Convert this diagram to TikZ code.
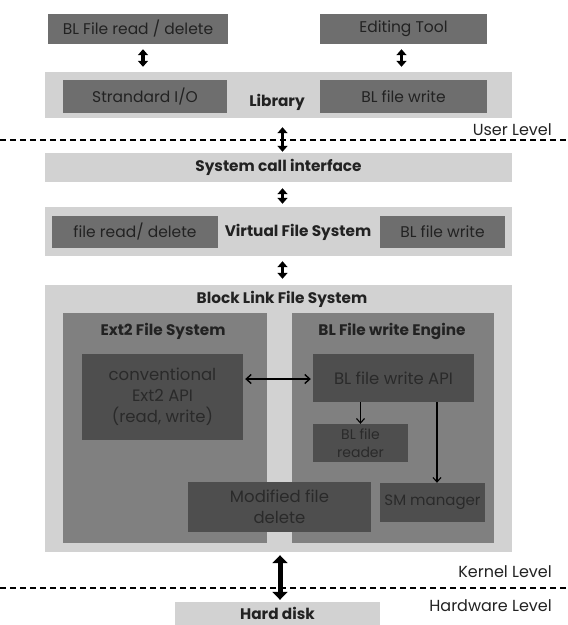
\documentclass[tikz,border=0pt]{standalone}
\usepackage{fontspec}
\setmainfont{Poppins}
\usetikzlibrary{arrows.meta}
\definecolor{bandc}{HTML}{D2D2D2}
\definecolor{darkc}{HTML}{6E6E6E}
\definecolor{midc}{HTML}{808080}
\definecolor{innerc}{HTML}{4E4E4E}
\definecolor{txtc}{HTML}{222222}
\definecolor{intxt}{HTML}{2A2A2A}
\tikzset{
  band/.style={fill=bandc, draw=none, inner sep=0pt},
  dbox/.style={fill=darkc, draw=none, inner sep=0pt, text=txtc, font=\fontsize{15.5}{18}\selectfont},
  mbox/.style={fill=midc, draw=none, inner sep=0pt},
  ibox/.style={fill=innerc, draw=none, inner sep=0pt, text=intxt, align=center, font=\fontsize{16.5}{21}\selectfont},
  ttl/.style={text=txtc, font=\bfseries\fontsize{15.3}{18}\selectfont, inner sep=0pt},
  lvl/.style={text=txtc, font=\fontsize{16}{18}\selectfont, inner sep=0pt, anchor=east},
  dbl/.style={line width=3.4pt, {Triangle[width=10pt,length=6pt]}-{Triangle[width=10pt,length=6pt]}},
  thin/.style={line width=1.1pt, -{Straight Barb[length=4.5pt,width=8pt]}},
  thinb/.style={line width=1.4pt, {Straight Barb[length=5pt,width=9pt]}-{Straight Barb[length=5pt,width=9pt]}},
  lvline/.style={line width=1.8pt, dash pattern=on 6pt off 4pt}
}
\begin{document}
\begin{tikzpicture}[x=1pt,y=-1pt]
\useasboundingbox[fill=white] (0,0) rectangle (568,625);
% user level
\node[dbox, minimum width=180, minimum height=30] (fr) at (138,29) {BL File read / delete};
\node[dbox, minimum width=167, minimum height=30] (et) at (403.5,29) {Editing Tool};
\node[band, minimum width=467, minimum height=46] (lib) at (278.5,95) {};
\node[ttl] (libl) at (277,102) {Library};
\node[dbox, minimum width=164, minimum height=33] (sio) at (145,96.5) {Strandard I/O};
\node[dbox, minimum width=167, minimum height=33] (blw) at (403.5,96.5) {BL file write};
% kernel
\node[band, minimum width=467, minimum height=29, font=\bfseries\fontsize{15.3}{18}\selectfont, text=txtc] (sci) at (278.5,167.5) {System call interface};
\node[band, minimum width=467, minimum height=49] (vfs) at (278.5,231.5) {};
\node[ttl] (vfsl) at (298,232) {Virtual File System};
\node[dbox, minimum width=166, minimum height=32] (frd) at (135,232) {file read/ delete};
\node[dbox, minimum width=125, minimum height=32] (vblw) at (442.5,232) {BL file write};
\node[band, minimum width=467, minimum height=267] (blfs) at (278.5,418.5) {};
\node[ttl] (blfsl) at (282,299) {Block Link File System};
\node[mbox, minimum width=204, minimum height=230] (ext2) at (165,428) {};
\node[ttl] (ext2l) at (163,331) {Ext2 File System};
\node[mbox, minimum width=202, minimum height=230] (eng) at (393,428) {};
\node[ttl] (engl) at (392,331) {BL File write Engine};
\node[ibox, minimum width=161, minimum height=86] (conv) at (162.5,397) {conventional\\Ext2 API\\(read, write)};
\node[ibox, minimum width=161, minimum height=48] (api) at (393.5,378) {BL file write API};
\node[ibox, minimum width=95, minimum height=38, font=\fontsize{14}{18}\selectfont] (rdr) at (360.5,443) {BL file\\reader};
\node[ibox, minimum width=105, minimum height=39, font=\fontsize{15}{18}\selectfont] (sm) at (432.5,502.5) {SM manager};
\node[ibox, minimum width=183, minimum height=50] (mod) at (279.5,507) {Modified file\\delete};
% hardware
\node[band, minimum width=205, minimum height=23] (hd) at (277.5,613.5) {};
\node[ttl] (hdl) at (277.5,613) {Hard disk};
% level lines and labels
\coordinate (ul0) at (0,140);
\coordinate (ul1) at (568,140);
\coordinate (kl0) at (0,588);
\coordinate (kl1) at (568,588);
\draw[lvline] (ul0) -- (ul1);
\draw[lvline] (kl0) -- (kl1);
\node[lvl] (ulv) at (552,130) {User Level};
\node[lvl] (klv) at (552,572) {Kernel Level};
\node[lvl] (hlv) at (552,606) {Hardware Level};
% connectors
\draw[dbl] ([xshift=5pt,yshift=-5pt]fr.south) -- ([xshift=5pt,yshift=5pt]fr.south |- lib.north);
\draw[dbl] ([xshift=-2pt,yshift=-5pt]et.south) -- ([xshift=-2pt,yshift=5pt]et.south |- lib.north);
\draw[dbl] ([xshift=4pt,yshift=-9pt]lib.south) -- ([xshift=4pt,yshift=1pt]lib.south |- sci.north);
\draw[dbl] ([xshift=4pt,yshift=-6pt]sci.south) -- ([xshift=4pt,yshift=3pt]sci.south |- vfs.north);
\draw[dbl] ([xshift=4pt,yshift=-5pt]vfs.south) -- ([xshift=4pt,yshift=6pt]vfs.south |- blfs.north);
\draw[thinb] ([xshift=2pt,yshift=18pt]conv.east) -- ([xshift=-2pt,yshift=18pt]conv.east -| api.west);
\draw[thin] (api.south -| rdr.north) -- (rdr.north);
\draw[thin] ([xshift=4.5pt]api.south -| sm.north) -- ([xshift=4.5pt]sm.north);
\draw[line width=5pt, {Triangle[width=15pt,length=8pt]}-{Triangle[width=15pt,length=8pt]}] ([xshift=1.5pt,yshift=-3pt]blfs.south) -- ([xshift=1.5pt,yshift=2pt]blfs.south |- hd.north);
\end{tikzpicture}
\end{document}
